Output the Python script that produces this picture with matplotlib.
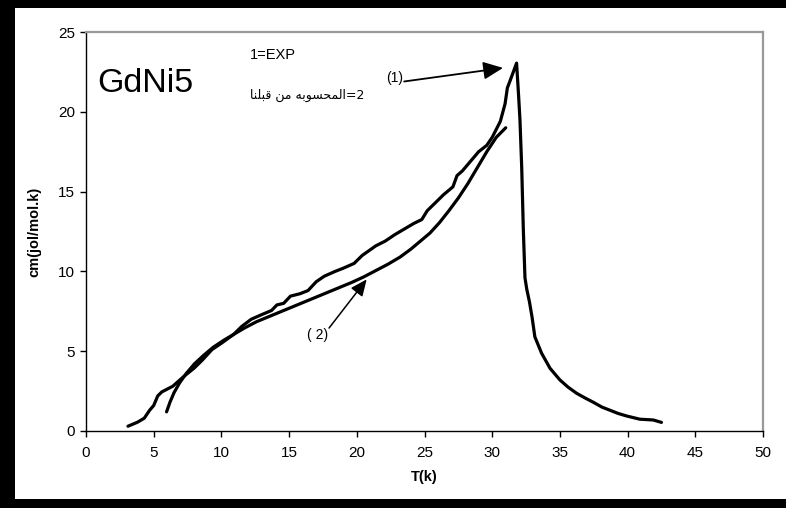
import matplotlib
matplotlib.use("Agg")
import matplotlib.pyplot as plt
from matplotlib.patches import Rectangle

plt.rcParams['font.family'] = ['Liberation Sans', 'DejaVu Sans']

# ---------------- data ----------------
T_exp = [3.1, 3.8, 4.3, 4.7, 5.0, 5.3, 5.6, 6.4, 6.8, 7.2, 8.0, 8.6, 9.3, 10.0, 10.9,
         11.5, 12.2, 13.0, 13.7, 14.1, 14.6, 15.1, 15.8, 16.4, 17.0, 17.6, 18.4, 19.0,
         19.8, 20.4, 20.9, 21.4, 22.1, 22.8, 23.5, 24.2, 24.8, 25.2, 25.8, 26.4, 27.1,
         27.4, 27.8, 28.4, 29.0, 29.6, 30.0, 30.6, 30.95, 31.12, 31.3, 31.8, 31.95,
         32.05, 32.18, 32.3, 32.42, 32.55, 32.75, 32.95, 33.15, 33.65, 34.27, 35.0, 35.6,
         36.24, 36.9, 37.47, 38.1, 38.7, 39.3, 39.93, 40.9, 41.9, 42.5]
C_exp = [0.3, 0.55, 0.8, 1.3, 1.6, 2.2, 2.45, 2.8, 3.1, 3.4, 3.95, 4.45, 5.1, 5.5, 6.05,
         6.55, 7.0, 7.3, 7.55, 7.9, 8.0, 8.45, 8.6, 8.8, 9.35, 9.7, 10.0, 10.2,
         10.5, 11.0, 11.3, 11.6, 11.9, 12.3, 12.65, 13.0, 13.25, 13.8, 14.3, 14.8, 15.3,
         16.0, 16.3, 16.9, 17.5, 17.9, 18.4, 19.4, 20.5, 21.5, 21.9, 23.05, 21.0,
         19.5, 16.5, 12.6, 9.6, 8.9, 8.1, 7.1, 5.9, 4.87, 3.93, 3.2, 2.75,
         2.36, 2.05, 1.8, 1.5, 1.3, 1.1, 0.94, 0.74, 0.69, 0.54]

T_calc = [5.95, 6.2, 6.5, 6.9, 7.4, 8.0, 8.7, 9.4, 10.2, 10.9, 11.7, 12.6, 13.6, 14.6,
          15.6, 16.6, 17.6, 18.6, 19.6, 20.5, 21.4, 22.3, 23.2, 24.0, 24.7, 25.4, 26.1,
          26.8, 27.5, 28.2, 28.9, 29.6, 30.3, 31.0]
C_calc = [1.2, 1.8, 2.4, 3.0, 3.6, 4.2, 4.75, 5.25, 5.7, 6.05, 6.45, 6.85, 7.2, 7.55,
          7.9, 8.25, 8.6, 8.95, 9.3, 9.65, 10.05, 10.45, 10.9, 11.4, 11.9, 12.4, 13.05,
          13.8, 14.6, 15.5, 16.5, 17.5, 18.4, 19.0]

x_ticks = [0, 5, 10, 15, 20, 25, 30, 35, 40, 45, 50]
y_ticks = [0, 5, 10, 15, 20, 25]

title_text = "GdNi5"
legend1 = "1=EXP"
legend2_ar = "المحسوبه من قبلنا"
legend2_num = "=2"
x_label = "T(k)"
y_label = "cm(jol/mol.k)"

# ---------------- simple Arabic shaping (matplotlib has no bidi/shaping) ----------------
FORMS = {  # isolated, final, initial, medial
    'ا': ('\uFE8D', '\uFE8E', None, None),
    'ل': ('\uFEDD', '\uFEDE', '\uFEDF', '\uFEE0'),
    'م': ('\uFEE1', '\uFEE2', '\uFEE3', '\uFEE4'),
    'ح': ('\uFEA1', '\uFEA2', '\uFEA3', '\uFEA4'),
    'س': ('\uFEB1', '\uFEB2', '\uFEB3', '\uFEB4'),
    'و': ('\uFEED', '\uFEEE', None, None),
    'ب': ('\uFE8F', '\uFE90', '\uFE91', '\uFE92'),
    'ه': ('\uFEE9', '\uFEEA', '\uFEEB', '\uFEEC'),
    'ن': ('\uFEE5', '\uFEE6', '\uFEE7', '\uFEE8'),
    'ق': ('\uFED5', '\uFED6', '\uFED7', '\uFED8'),
}


def shape_arabic(s):
    out = []
    for i, ch in enumerate(s):
        if ch not in FORMS:
            out.append(ch)
            continue
        prev = s[i - 1] if i > 0 else None
        nxt = s[i + 1] if i + 1 < len(s) else None
        jp = prev in FORMS and FORMS[prev][2] is not None
        jn = nxt in FORMS and FORMS[ch][2] is not None
        iso, fin, ini, med = FORMS[ch]
        if jp and jn:
            out.append(med)
        elif jp:
            out.append(fin)
        elif jn:
            out.append(ini)
        else:
            out.append(iso)
    return ''.join(reversed(out))


# ---------------- figure ----------------
W, H = 786, 508
fig = plt.figure(figsize=(W / 100, H / 100), dpi=100, facecolor='white')
ax = fig.add_axes([86 / W, 1 - 431 / H, (763 - 86) / W, (431 - 32) / H])
ax.set_facecolor('white')

# black frame (top, left, bottom bars)
for (x0, y0, w, h) in [(0, H - 8, W, 8), (0, 0, 15, H), (0, 0, W, 9)]:
    fig.add_artist(Rectangle((x0 / W, y0 / H), w / W, h / H, transform=fig.transFigure,
                             facecolor='black', edgecolor='none', zorder=0))

ax.plot(T_exp, C_exp, color='black', lw=2.3, solid_capstyle='round', solid_joinstyle='round')
ax.plot(T_calc, C_calc, color='black', lw=2.3, solid_capstyle='round', solid_joinstyle='round')

ax.set_xlim(0, 50)
ax.set_ylim(0, 25)
ax.set_xticks(x_ticks)
ax.set_yticks(y_ticks)
ax.tick_params(axis='both', direction='out', length=4, width=1, labelsize=11, colors='black')
ax.tick_params(axis='x', pad=7)
ax.tick_params(axis='y', pad=4)

for side in ['left', 'bottom']:
    ax.spines[side].set_color('black')
    ax.spines[side].set_linewidth(1)
for side in ['top', 'right']:
    ax.spines[side].set_color('#999999')
    ax.spines[side].set_linewidth(1.6)

ax.set_xlabel(x_label, fontsize=10.5, fontweight='bold', va='top')
ax.xaxis.set_label_coords(0.5, -0.097)
ax.set_ylabel(y_label, fontsize=10.5, fontweight='bold', va='center')
ax.yaxis.set_label_coords(-0.076, 0.5)

# texts
ax.text(0.81, 21.24, title_text, fontsize=24.5, va='baseline', ha='left')
ax.text(12.1, 23.55, legend1, fontsize=10.5, va='center', ha='left')
ax.text(12.1, 21.0, shape_arabic(legend2_ar) + legend2_num, fontsize=9, va='center', ha='left',
        family=['DejaVu Sans'])

# annotations
ax.text(23.4, 22.1, "(1)", fontsize=10, ha='right', va='center')
ax.annotate('', xy=(30.8, 22.75), xytext=(23.5, 21.9),
            arrowprops=dict(arrowstyle='-|>,head_length=0.6,head_width=0.27',
                            mutation_scale=20, lw=1.3, color='black', shrinkA=0, shrinkB=0))
ax.text(17.1, 6.0, "( 2)", fontsize=10, ha='center', va='center')
ax.annotate('', xy=(20.73, 9.5), xytext=(17.95, 6.45),
            arrowprops=dict(arrowstyle='-|>,head_length=0.5,head_width=0.22',
                            mutation_scale=20, lw=1.1, color='black', shrinkA=0, shrinkB=0))

fig.savefig('out.png', dpi=100, facecolor='white')
